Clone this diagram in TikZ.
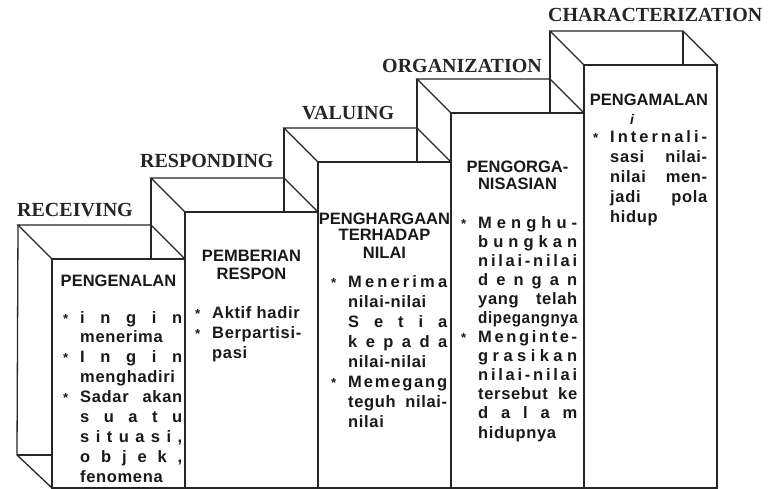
\documentclass[tikz,border=0pt]{standalone}
\usepackage{fontspec}
\usepackage{graphicx}
\setmainfont{Liberation Serif}
\newfontfamily\bodyfamily{Liberation Sans}[LetterSpace=4]
\newfontfamily\headfamily{Liberation Sans}
\newfontfamily\titlefamily{Liberation Serif}

% text lines of the columns
\makeatletter
\def\Tspr@aux#1{\ifx#1\relax\else\hfil#1\expandafter\Tspr@aux\fi}
\def\Tspr@first#1{#1\Tspr@aux}
\newcommand\Tspread[1]{\hbox to\hsize{\Tspr@first#1\relax}}
\newcommand\Tbspread[1]{\hbox to\hsize{\Tb\Tspr@first#1\relax}}
\makeatother
\newcommand\Tb{\llap{\scalebox{0.8}{*}\hskip12pt}}
\newcommand\Tnat[1]{\hbox to\hsize{#1\hss}}
\newcommand\Tjust[1]{\hbox to\hsize{#1}}
\newcommand\Tcen[1]{\hbox to\hsize{\hss#1\hss}}
\newcommand\textcol[3]{\vtop{\hsize=#1\baselineskip=#2\lineskiplimit=-20pt\lineskip=0pt #3}}

\begin{document}
\begin{tikzpicture}[x=1pt,y=-1pt,
  edge/.style={draw=black!85,line width=1.3pt,line join=miter},
  face/.style={edge,fill=white},
  title/.style={anchor=base west,inner sep=0pt,text=black!85,
    font=\titlefamily\bfseries\fontsize{20}{22}\selectfont},
  head/.style={anchor=base,inner sep=0pt,text=black!90,
    font=\headfamily\bfseries\fontsize{16.5}{18}\selectfont},
  body/.style={anchor=base west,inner sep=0pt,text=black!90,
    font=\bodyfamily\bfseries\fontsize{16.5}{20}\selectfont}]

\useasboundingbox (0,0) rectangle (768,489);
\fill[white] (0,0) rectangle (768,489);

% five steps: front face, top face and the visible back edges
\foreach \X/\Y/\n in {52/259/1,185/212/2,318/162/3,451/113/4,584/65/5}{
  \coordinate (f\n) at (\X,\Y);
  \coordinate (g\n) at (\X+133,\Y);
  \coordinate (b\n) at (\X-34,\Y-34);
  \coordinate (c\n) at (\X+99,\Y-34);
  \coordinate (d\n) at (\X+99,\Y);
  \coordinate (e\n) at (\X+133,488);
  \draw[edge] (b\n) -- (c\n) -- (g\n) -- (f\n) -- cycle;
  \draw[edge] (c\n) -- (d\n);
  \draw[face] (f\n) rectangle (e\n);
}
% back verticals resting on the step before
\draw[edge] (b2) -- (c1);
\draw[edge] (b3) -- (c2);
\draw[edge] (b4) -- (c3);
\draw[edge] (b5) -- (c4);
% left side of the first step
\coordinate (k1) at (17,455);
\coordinate (m1) at (52,455);
\coordinate (n1) at (52,488);
\draw[edge] (b1) -- (k1) -- (n1);
\draw[edge] (k1) -- (m1);

% level names
\node[title] (t1) at (17,217) {RECEIVING};
\node[title] (t2) at (140,168) {RESPONDING};
\node[title] (t3) at (302,120) {VALUING};
\node[title] (t4) at (382,73) {ORGANIZATION};
\node[title] (t5) at (548,22) {CHARACTERIZATION};

% headings on the front faces
\node[head] (h1) at (118.5,286) {\textcol{133pt}{18pt}{\Tcen{PENGENALAN}}};
\node[head] (h2) at (251.5,261) {\textcol{133pt}{18pt}{\Tcen{PEMBERIAN}\Tcen{RESPON}}};
\node[head] (h3) at (384.5,224) {\textcol{133pt}{17pt}{\Tcen{PENGHARGAAN}\Tcen{TERHADAP}\Tcen{NILAI}}};
\node[head] (h4) at (517.5,173) {\textcol{133pt}{17pt}{\Tcen{PENGORGA-}\Tcen{NISASIAN}}};
\node[head] (h5) at (649,106) {\textcol{133pt}{18pt}{\Tcen{PENGAMALAN}}};
\node[head,font=\headfamily\bfseries\itshape\fontsize{14}{16}\selectfont] (h5i) at (632,125) {i};

% descriptions
\node[body] (p1) at (80,323) {\textcol{102pt}{19.9pt}{%
  \Tbspread{ingin}
  \Tnat{menerima}
  \Tbspread{Ingin}
  \Tnat{menghadiri}
  \Tjust{\Tb Sadar\hfil akan}
  \Tspread{suatu}
  \Tspread{situasi,}
  \Tspread{objek,}
  \Tnat{fenomena}}};

\node[body] (p2) at (212,318) {\textcol{100pt}{20pt}{%
  \Tnat{\Tb Aktif hadir}
  \Tnat{\Tb Berpartisi-}
  \Tnat{pasi}}};

\node[body] (p3) at (348,287) {\textcol{99pt}{20pt}{%
  \Tbspread{Menerima}
  \Tnat{nilai-nilai}
  \Tspread{Setia}
  \Tspread{kepada}
  \Tnat{nilai-nilai}
  \Tbspread{Memegang}
  \Tjust{teguh\hfil nilai-}
  \Tnat{nilai}}};

\node[body] (p4) at (478,228) {\textcol{99pt}{19.1pt}{%
  \Tbspread{Menghu-}
  \Tspread{bungkan}
  \Tspread{nilai-nilai}
  \Tspread{dengan}
  \Tjust{yang\hfil telah}
  \Tnat{\scalebox{0.92}[1]{dipegangnya}}
  \Tbspread{Menginte-}
  \Tspread{grasikan}
  \Tspread{nilai-nilai}
  \Tjust{tersebut\hfil ke}
  \Tspread{dalam}
  \Tnat{hidupnya}}};

\node[body] (p5) at (610,143) {\textcol{97pt}{20pt}{%
  \Tbspread{Internali-}
  \Tjust{sasi\hfil nilai-}
  \Tjust{nilai\hfil men-}
  \Tjust{jadi\hfil pola}
  \Tnat{hidup}}};
\end{tikzpicture}
\end{document}
